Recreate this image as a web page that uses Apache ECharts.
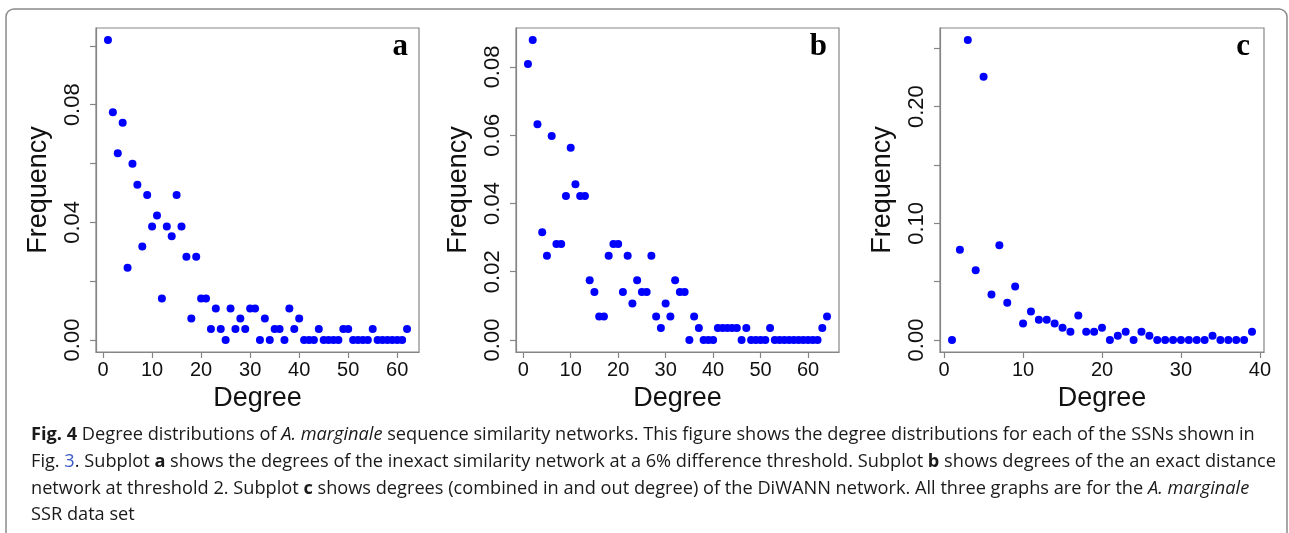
<!DOCTYPE html>
<html>
<head>
<meta charset="utf-8">
<script src="https://cdn.jsdelivr.net/npm/echarts@6/dist/echarts.min.js"></script>
<style>
html,body{margin:0;padding:0;background:#fff;}
#chart{width:1289px;height:533px;}
</style>
</head>
<body>
<div id="chart"></div>
<script>
// ---- data ----
const degA = [1,2,3,4,5,6,7,8,9,10,11,12,13,14,15,16,17,18,19,20,21,22,23,24,25,26,27,28,29,30,31,32,33,34,35,36,37,38,39,40,41,42,43,44,45,46,47,48,49,50,51,52,53,54,55,56,57,58,59,60,61,62];
const freqA = [0.1020,0.0774,0.0635,0.0739,0.0246,0.0599,0.0528,0.0318,0.0493,0.0386,
               0.0423,0.0141,0.0386,0.0353,0.0493,0.0386,0.0283,0.0073,0.0283,0.0141,
               0.0141,0.0037,0.0107,0.0037,0,0.0107,0.0037,0.0073,0.0037,0.0107,
               0.0107,0,0.0073,0,0.0037,0.0037,0,0.0107,0.0037,0.0073,
               0,0,0,0.0037,0,0,0,0,0.0037,0.0037,
               0,0,0,0,0.0037,0,0,0,0,0,
               0,0.0037];
const degB = [1,2,3,4,5,6,7,8,9,10,11,12,13,14,15,16,17,18,19,20,21,22,23,24,25,26,27,28,29,30,31,32,33,34,35,36,37,38,39,40,41,42,43,44,45,46,47,48,49,50,51,52,53,54,55,56,57,58,59,60,61,62,63,64];
const freqB = [0.0809,0.0879,0.0632,0.0316,0.0247,0.0598,0.0281,0.0281,0.0422,0.0563,
               0.0456,0.0422,0.0422,0.0175,0.0141,0.0069,0.0069,0.0247,0.0281,0.0281,
               0.0141,0.0247,0.0107,0.0175,0.0141,0.0141,0.0247,0.0069,0.0035,0.0107,
               0.0069,0.0175,0.0141,0.0141,0,0.0069,0.0035,0,0,0,
               0.0035,0.0035,0.0035,0.0035,0.0035,0,0.0035,0,0,0,
               0,0.0035,0,0,0,0,0,0,0,0,
               0,0,0.0035,0.0069];
const degC = [1,2,3,4,5,6,7,8,9,10,11,12,13,14,15,16,17,18,19,20,21,22,23,24,25,26,27,28,29,30,31,32,33,34,35,36,37,38,39];
const freqC = [0,0.0774,0.2571,0.0598,0.2255,0.0390,0.0812,0.0319,0.0458,0.0142,
               0.0245,0.0174,0.0174,0.0142,0.0105,0.0071,0.0211,0.0071,0.0071,0.0105,
               0,0.0037,0.0071,0,0.0071,0.0037,0,0,0,0,
               0,0,0,0.0037,0,0,0,0,0.0071];

// tick positions and labels
const xTicksA = [0,10,20,30,40,50,60];
const xTicksB = [0,10,20,30,40,50,60];
const xTicksC = [0,10,20,30,40];
const yTicksA = [0,0.02,0.04,0.06,0.08,0.10];
const yLabelsA = [0,0.04,0.08];
const yTicksB = [0,0.02,0.04,0.06,0.08];
const yLabelsB = [0,0.02,0.04,0.06,0.08];
const yTicksC = [0,0.05,0.10,0.15,0.20,0.25];
const yLabelsC = [0,0.10,0.20];
const panelLetters = ['a','b','c'];
const xTitle = 'Degree';
const yTitle = 'Frequency';

// ---- layout / style ----
const boxes = [
  {left: 96, top: 28, width: 323, height: 324, letterInset: 11},
  {left: 516, top: 28, width: 323, height: 324, letterInset: 12},
  {left: 940, top: 28, width: 324, height: 324, letterInset: 14}
];
const gray = '#858585';
const axisFont = 'Liberation Sans, Arial, sans-serif';

function rRange(arr){
  const mn = Math.min(...arr), mx = Math.max(...arr);
  const e = 0.04*(mx-mn);
  return [mn-e, mx+e];
}

const panels = [
  {x: degA, y: freqA, xt: xTicksA, yt: yTicksA, yl: yLabelsA},
  {x: degB, y: freqB, xt: xTicksB, yt: yTicksB, yl: yLabelsB},
  {x: degC, y: freqC, xt: xTicksC, yt: yTicksC, yl: yLabelsC}
];

const grids = [], xAxes = [], yAxes = [], series = [], graphics = [];
panels.forEach((p, i) => {
  const b = boxes[i];
  grids.push({left: b.left, top: b.top, width: b.width, height: b.height,
    show: true, borderColor: gray, borderWidth: 1.2, backgroundColor: 'transparent'});
  const xr = rRange(p.x), yr = rRange(p.y);
  xAxes.push({
    type: 'value', gridIndex: i, min: xr[0], max: xr[1],
    name: xTitle, nameLocation: 'middle', nameGap: 28,
    nameTextStyle: {fontFamily: axisFont, fontSize: 27, color: '#111'},
    axisLine: {show: true, onZero: false, lineStyle: {color: gray, width: 1.2}},
    axisTick: {show: true, length: 6, customValues: p.xt, lineStyle: {color: gray, width: 1.2}},
    axisLabel: {customValues: p.xt, margin: 8, fontFamily: axisFont, fontSize: 20, color: '#111',
      formatter: v => String(Math.round(v))},
    splitLine: {show: false}
  });
  yAxes.push({
    type: 'value', gridIndex: i, min: yr[0], max: yr[1],
    name: yTitle, nameLocation: 'middle', nameGap: 44,
    nameTextStyle: {fontFamily: axisFont, fontSize: 27, color: '#111'},
    axisLine: {show: true, onZero: false, lineStyle: {color: gray, width: 1.2}},
    axisTick: {show: true, length: 6, customValues: p.yt, lineStyle: {color: gray, width: 1.2}},
    axisLabel: {customValues: p.yl, margin: 12, rotate: 90, fontFamily: axisFont, fontSize: 22, color: '#111',
      formatter: v => v.toFixed(2)},
    splitLine: {show: false}
  });
  series.push({
    type: 'scatter', xAxisIndex: i, yAxisIndex: i,
    data: p.x.map((d, k) => [d, p.y[k]]),
    symbol: 'circle', symbolSize: 8,
    itemStyle: {color: '#0000ff', opacity: 1}
  });
  graphics.push({
    type: 'text', x: b.left + b.width - b.letterInset, y: 47,
    style: {text: panelLetters[i], fontFamily: 'Liberation Serif, Times New Roman, serif',
      fontWeight: 'bold', fontSize: 31, fill: '#000', align: 'right', verticalAlign: 'middle'}
  });
});

// outer frame
graphics.push({
  type: 'rect', shape: {x: 6, y: 9, width: 1281, height: 600, r: 8},
  style: {fill: 'none', stroke: '#8a8a8a', lineWidth: 1.5}, z: -1
});

// caption
const captionLines = [
  '{b|Fig. 4} Degree distributions of {i|A. marginale} sequence similarity networks. This figure shows the degree distributions for each of the SSNs shown in',
  'Fig. {l|3}. Subplot {b|a} shows the degrees of the inexact similarity network at a 6% difference threshold. Subplot {b|b} shows degrees of the an exact distance',
  'network at threshold 2. Subplot {b|c} shows degrees (combined in and out degree) of the DiWANN network. All three graphs are for the {i|A. marginale}',
  'SSR data set'
];
const capFont = 'Open Sans, Noto Sans, sans-serif';
const capSize = 18.2;
const capLH = 26.6;
graphics.push({
  type: 'text', x: 31, y: 422,
  style: {
    text: captionLines.join('\n'),
    fontFamily: capFont, fontSize: capSize, fill: '#1a1a1a', lineHeight: capLH,
    align: 'left', verticalAlign: 'top',
    rich: {
      b: {fontFamily: capFont, fontSize: capSize, fontWeight: 'bold', fill: '#1a1a1a', lineHeight: capLH},
      i: {fontFamily: capFont, fontSize: capSize, fontStyle: 'italic', fill: '#1a1a1a', lineHeight: capLH},
      l: {fontFamily: capFont, fontSize: capSize, fill: '#3b5bc8', lineHeight: capLH}
    }
  }
});

const chart = echarts.init(document.getElementById('chart'), null, {renderer: 'canvas'});
chart.setOption({
  animation: false,
  backgroundColor: '#fff',
  grid: grids, xAxis: xAxes, yAxis: yAxes, series: series,
  graphic: graphics
});
</script>
</body>
</html>
